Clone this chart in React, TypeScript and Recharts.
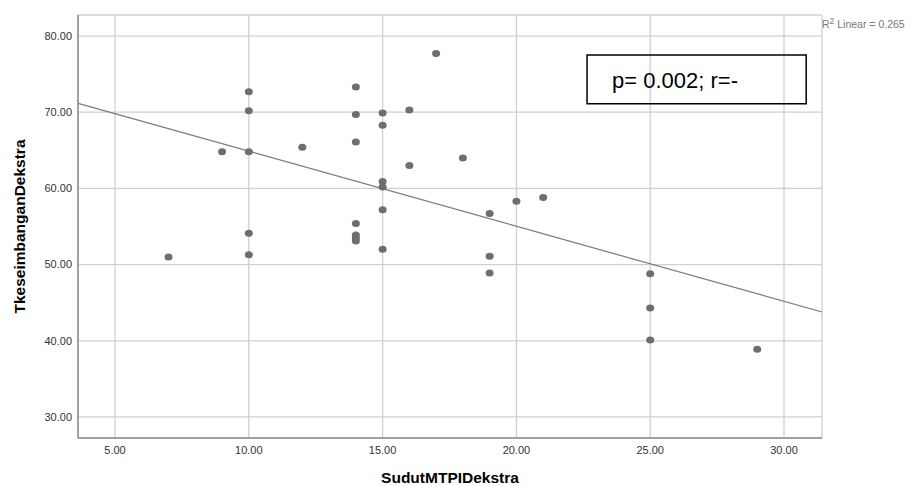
import {
  ScatterChart, Scatter, XAxis, YAxis, CartesianGrid, ReferenceLine, ReferenceArea
} from 'recharts';

// SudutMTPIDekstra (x) vs TkeseimbanganDekstra (y)
const sudutValues = [
  7, 9, 10, 10, 10, 10, 10, 12,
  14, 14, 14, 14, 14, 14, 14,
  15, 15, 15, 15, 15, 15,
  16, 16, 17, 18, 19, 19, 19, 20, 21, 25, 25, 25, 29,
];
const keseimbanganValues = [
  51.0, 64.8, 72.7, 70.2, 64.8, 54.1, 51.3, 65.4,
  73.3, 69.7, 66.1, 55.4, 53.9, 53.5, 53.1,
  69.9, 68.3, 60.9, 60.2, 57.2, 52.0,
  70.3, 63.0, 77.7, 64.0, 56.7, 51.1, 48.9, 58.3, 58.8, 48.8, 44.3, 40.1, 38.9,
];

const xTicks = [5, 10, 15, 20, 25, 30];
const yTicks = [30, 40, 50, 60, 70, 80];

// fit line ends as drawn in the reference
const fitX = [3.62, 31.42];
const fitY = [71.17, 43.78];

// text box corners (data units)
const boxX = [22.64, 30.83];
const boxY = [71.1, 77.5];
const boxText = 'p= 0.002; r=-';

const points = sudutValues.map((x, i) => ({ x, y: keseimbanganValues[i] }));

const font = '"Liberation Sans", Arial, sans-serif';

const Dot = (props: any) => {
  const { cx, cy } = props;
  return <ellipse cx={cx} cy={cy} rx={4} ry={3.5} fill="#6e6e6e" />;
};

export default function App() {
  return (
    <div style={{ position: 'absolute', left: 0, top: 0, background: '#fff' }}>
      <ScatterChart
        width={914}
        height={486}
        margin={{ top: 15, right: 92, bottom: 0, left: 0 }}
        style={{ fontFamily: font }}
      >
        <CartesianGrid stroke="#d0d0d0" strokeWidth={1.3} />
        <XAxis
          type="number"
          dataKey="x"
          domain={[3.617, 31.42]}
          ticks={xTicks}
          tickFormatter={(v: number) => v.toFixed(2)}
          tickLine={false}
          allowDataOverflow
          height={48}
          stroke="#8c8c8c"
          strokeWidth={1.5}
          tick={{ fontSize: 11, fill: '#333' }}
          label={{
            content: ({ viewBox }: any) => (
              <text
                x={viewBox.x + viewBox.width / 2}
                y={viewBox.y + 45}
                textAnchor="middle"
                fontSize={15.5}
                fontWeight="bold"
                fill="#000"
                fontFamily={font}
              >
                SudutMTPIDekstra
              </text>
            ),
          }}
        />
        <YAxis
          type="number"
          dataKey="y"
          domain={[27.24, 82.76]}
          ticks={yTicks}
          tickFormatter={(v: number) => v.toFixed(2)}
          tickLine={false}
          tickMargin={0}
          allowDataOverflow
          width={78}
          stroke="#8c8c8c"
          strokeWidth={1.5}
          tick={{ fontSize: 11, fill: '#333' }}
          label={{
            content: ({ viewBox }: any) => {
              const cx = viewBox.x + 19;
              const cy = viewBox.y + viewBox.height / 2;
              return (
                <text
                  x={cx}
                  y={cy}
                  transform={`rotate(-90, ${cx}, ${cy})`}
                  textAnchor="middle"
                  dominantBaseline="central"
                  fontSize={15.5}
                  fontWeight="bold"
                  fill="#000"
                  fontFamily={font}
                >
                  TkeseimbanganDekstra
                </text>
              );
            },
          }}
        />
        <ReferenceArea
          x1={boxX[0]}
          x2={boxX[1]}
          y1={boxY[0]}
          y2={boxY[1]}
          fill="none"
          fillOpacity={0}
          stroke="#000"
          strokeWidth={1.5}
          label={{
            content: ({ viewBox }: any) => (
              <text
                x={viewBox.x + 25}
                y={viewBox.y + viewBox.height / 2 + 1}
                dominantBaseline="central"
                fontSize={22}
                fill="#000"
                fontFamily={font}
              >
                {boxText}
              </text>
            ),
          }}
        />
        <ReferenceLine
          segment={[{ x: fitX[0], y: fitY[0] }, { x: fitX[1], y: fitY[1] }]}
          stroke="#7a7a7a"
          strokeWidth={1.2}
          ifOverflow="extendDomain"
        />
        <Scatter data={points} shape={Dot} isAnimationActive={false} />
        <text x={822} y={28} fontSize={10.5} fill="#777" fontFamily={font}>
          R<tspan dy={-4} fontSize={8.5}>2</tspan>
          <tspan dy={4}> Linear = 0.265</tspan>
        </text>
      </ScatterChart>
    </div>
  );
}
